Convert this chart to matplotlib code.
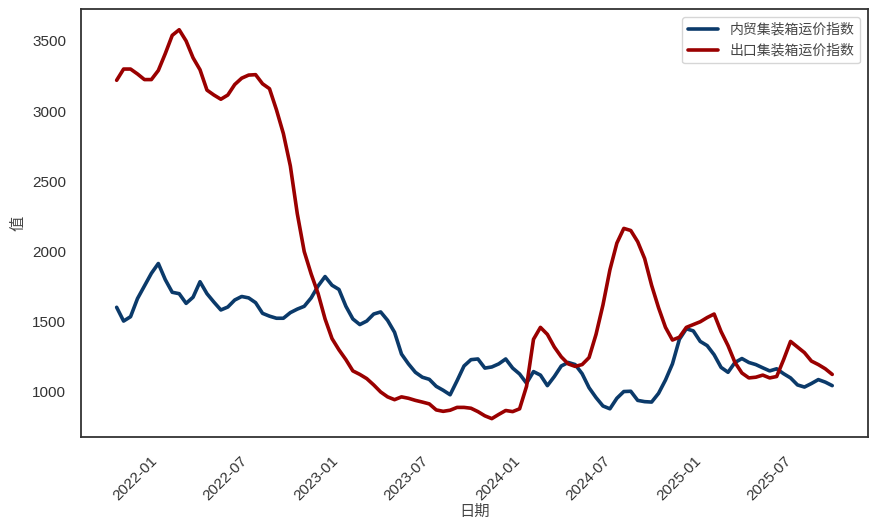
import numpy as np
import pandas as pd
import matplotlib
matplotlib.use('Agg')
import matplotlib.pyplot as plt
import matplotlib.dates as mdates
import seaborn as sns

# ======================
# 数据（双周采样，读图估计）
# ======================
dates = pd.date_range('2021-10-15', periods=104, freq='14D')

domestic = [
    1603, 1505, 1536, 1665, 1755, 1845, 1915, 1800, 1710, 1700,
    1631, 1675, 1785, 1700, 1640, 1584, 1605, 1655, 1680, 1670,
    1636, 1560, 1540, 1525, 1525, 1565, 1590, 1610, 1670, 1755,
    1822, 1760, 1730, 1610, 1520, 1480, 1505, 1555, 1570, 1510,
    1425, 1270, 1200, 1140, 1105, 1090, 1040, 1012, 980, 1080,
    1185, 1230, 1235, 1170, 1178, 1200, 1235, 1170, 1128, 1062,
    1145, 1120, 1045, 1110, 1185, 1210, 1195, 1130, 1030, 960,
    900, 880, 955, 1003, 1005, 940, 931, 928, 990, 1085,
    1200, 1375, 1450, 1435, 1360, 1330, 1265, 1175, 1140, 1210,
    1238, 1210, 1195, 1172, 1150, 1165, 1130, 1100, 1050, 1035,
    1060, 1088, 1070, 1045,
]

export = [
    3220, 3300, 3300, 3265, 3225, 3225, 3290, 3410, 3540, 3580,
    3500, 3380, 3295, 3150, 3115, 3085, 3115, 3190, 3235, 3257,
    3260, 3195, 3160, 3010, 2840, 2610, 2270, 2000, 1840, 1700,
    1520, 1380, 1300, 1230, 1150, 1125, 1095, 1050, 1000, 965,
    945, 965, 955, 940, 928, 915, 872, 862, 870, 890,
    890, 884, 860, 830, 810, 840, 868, 860, 880, 1040,
    1375, 1460, 1410, 1320, 1250, 1200, 1182, 1195, 1245, 1410,
    1620, 1870, 2060, 2165, 2150, 2070, 1950, 1760, 1600, 1460,
    1370, 1390, 1460, 1480, 1500, 1530, 1555, 1430, 1330, 1210,
    1135, 1100, 1105, 1120, 1100, 1110, 1230, 1360, 1320, 1280,
    1220, 1195, 1165, 1125,
]

labels = ['内贸集装箱运价指数', '出口集装箱运价指数']
colors = ['#0b3a6a', '#9a0000']

# 绘图风格
sns.set_style('white')
plt.rcParams['font.family'] = ['Liberation Sans', 'Noto Sans CJK SC', 'DejaVu Sans']
plt.rcParams['axes.unicode_minus'] = False

fig, ax = plt.subplots(figsize=(8.79, 5.27), dpi=100)
fig.subplots_adjust(left=0.092, right=0.9875, top=0.983, bottom=0.171)

ax.plot(dates, domestic, color=colors[0], linewidth=2.6, label=labels[0])
ax.plot(dates, export, color=colors[1], linewidth=2.6, label=labels[1])

ax.xaxis.set_major_locator(mdates.MonthLocator(bymonth=[1, 7]))
ax.xaxis.set_major_formatter(mdates.DateFormatter('%Y-%m'))
plt.setp(ax.get_xticklabels(), rotation=45, ha='right', va='center', rotation_mode='anchor')
ax.tick_params(axis='x', labelsize=11, colors='#333333', pad=12)
ax.tick_params(axis='y', labelsize=11, colors='#333333', pad=7)

ax.set_yticks([1000, 1500, 2000, 2500, 3000, 3500])
ax.set_ylim(680, 3728)

ax.set_xlabel('日期', fontsize=11, color='#444444', family=['Noto Sans CJK SC'], labelpad=0)
ax.set_ylabel('值', fontsize=11, color='#444444', family=['Noto Sans CJK SC'], labelpad=4)

for s in ax.spines.values():
    s.set_color('#333333')
    s.set_linewidth(1.3)

leg = ax.legend(loc='upper right', prop={'family': 'Noto Sans CJK SC', 'size': 10},
                handlelength=2.2, borderaxespad=0.6)
for t in leg.get_texts():
    t.set_color('#444444')

plt.savefig('out.png')
